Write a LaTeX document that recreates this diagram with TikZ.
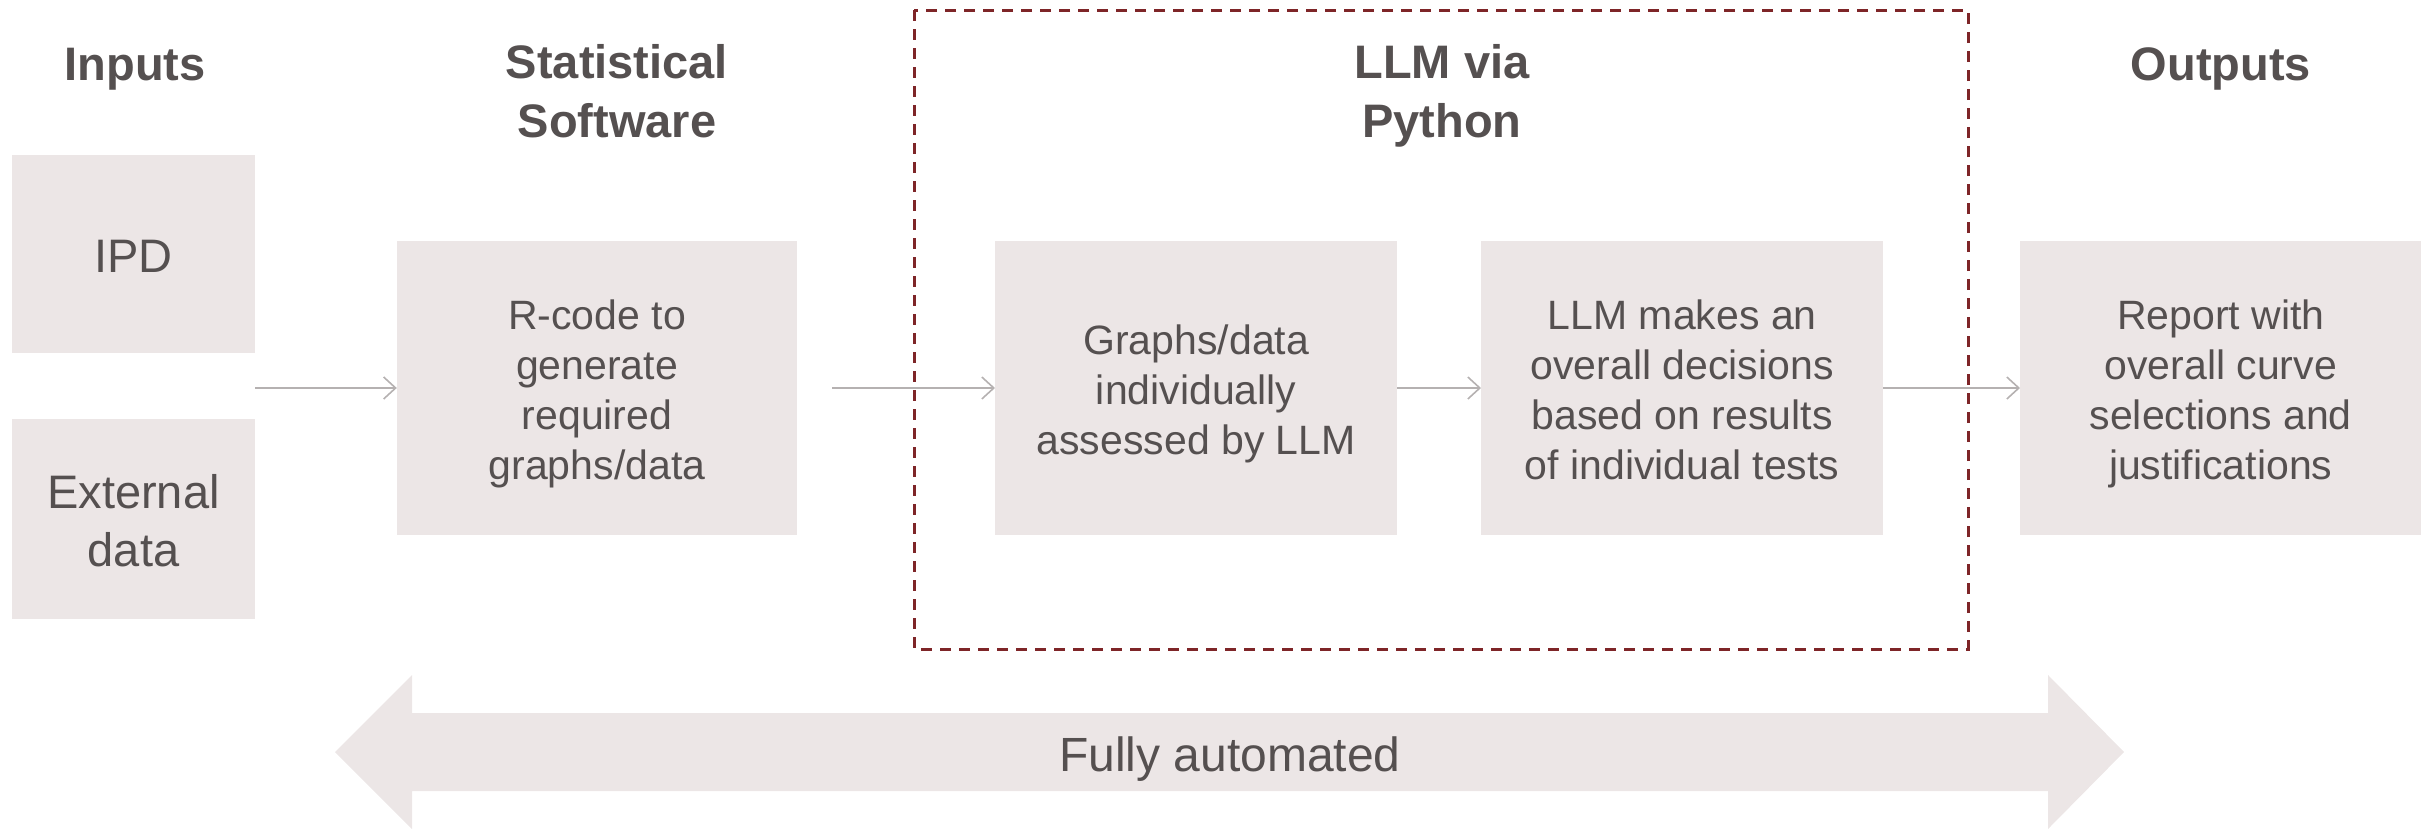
\documentclass[tikz,border=0pt]{standalone}
\usepackage{fontspec}
\setmainfont{Liberation Sans}
\usetikzlibrary{arrows.meta}
\definecolor{boxfill}{HTML}{ECE6E6}
\definecolor{txt}{HTML}{555050}
\definecolor{dashred}{HTML}{7E2528}
\definecolor{linegray}{HTML}{B5B1B1}
% explicit struts: top of first line / bottom of last line
\newcommand\tbs{\rule{0pt}{46pt}}
\newcommand\bbs{\rule[-14pt]{0pt}{14pt}}
\newcommand\tbig{\rule{0pt}{48pt}}
\newcommand\bbig{\rule[-12pt]{0pt}{12pt}}
\tikzset{
  box/.style={fill=boxfill, draw=none, inner sep=0pt, align=center, text=txt,
    font=\fontsize{41}{50}\selectfont},
  bigbox/.style={box, font=\fontsize{47}{58}\selectfont},
  title/.style={inner sep=0pt, align=center, text=txt,
    font=\bfseries\fontsize{47}{59}\selectfont},
  flow/.style={draw=linegray, line width=2pt,
    -{Straight Barb[length=12pt,width=22pt,line width=1.6pt]}},
  llmframe/.style={draw=dashred, line width=3pt, dash pattern=on 11pt off 8pt},
  automated/.style={fill=boxfill, draw=none}
}
\begin{document}
\begin{tikzpicture}[x=1pt,y=-1pt]
\useasboundingbox (0,0) rectangle (2433,828);
% titles
\node[title, anchor=base] (tin) at (135,80) {Inputs};
\node[title] (tstat) at (617,91.5) {\tbs Statistical\\Software\bbs};
\node[title] (tllm) at (1442,91.5) {\tbs LLM via\\Python\bbs};
\node[title, anchor=base] (tout) at (2221,80) {Outputs};
% boxes
\node[bigbox, minimum width=243pt, minimum height=198pt] (ipd) at (133.5,254) {\tbig IPD\bbig};
\node[bigbox, minimum width=243pt, minimum height=200pt] (ext) at (133.5,519) {\tbig External\\data\bbig};
\node[box, minimum width=400pt, minimum height=294pt] (rcode) at (597,388) {\tbs R-code to\\generate\\required\\graphs/data\bbs};
\node[box, minimum width=402pt, minimum height=294pt, anchor=west] (graphs) at (995,388) {\tbs Graphs/data\\individually\\assessed by LLM\bbs};
\node[box, minimum width=402pt, minimum height=294pt, anchor=west] (decide) at (1481,388) {\tbs LLM makes an\\overall decisions\\based on results\\of individual tests\bbs};
\node[box, minimum width=401pt, minimum height=294pt, anchor=west] (report) at (2020,388) {\tbs Report with\\overall curve\\selections and\\justifications\bbs};
% connectors
\coordinate (ipdout) at (255,388);
\coordinate (rout) at (832,388);
\draw[flow] (ipdout) -- (rcode.west);
\draw[flow] (rout) -- (graphs.west);
\draw[flow] (graphs.east) -- (decide.west);
\draw[flow] (decide.east) -- (report.west);
% dashed frame
\draw[llmframe] (914,10) rectangle (1968,649);
% big double arrow
\fill[automated] (335,752) -- (412,675) -- (412,713) -- (2048,713) -- (2048,675)
  -- (2124,752) -- (2048,829) -- (2048,791) -- (412,791) -- (412,829) -- cycle;
\node[inner sep=0pt, text=txt, anchor=base, font=\fontsize{48}{56}\selectfont] (fa) at (1230,771) {Fully automated};
\end{tikzpicture}
\end{document}
